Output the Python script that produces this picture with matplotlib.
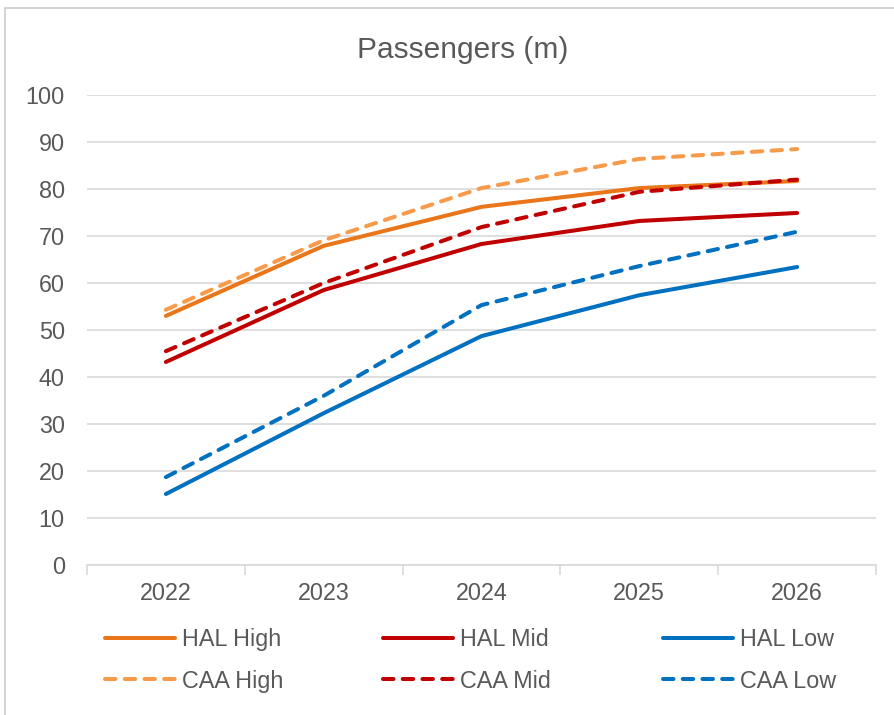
import matplotlib
matplotlib.use("Agg")
import matplotlib.pyplot as plt
from matplotlib.patches import Rectangle
from matplotlib.ticker import FixedLocator, NullFormatter

plt.rcParams['font.family'] = ['Liberation Sans', 'DejaVu Sans']

years = ['2022', '2023', '2024', '2025', '2026']
hal_high = [53.0, 67.9, 76.2, 80.2, 81.7]
caa_high = [54.3, 69.1, 80.2, 86.4, 88.5]
hal_mid = [43.2, 58.5, 68.3, 73.2, 74.9]
caa_mid = [45.5, 60.0, 71.9, 79.4, 82.0]
hal_low = [15.1, 32.3, 48.7, 57.4, 63.4]
caa_low = [18.7, 36.0, 55.3, 63.6, 70.9]

W, H = 894, 715
fig = plt.figure(figsize=(W/100, H/100), dpi=100)
# outer chart frame
fig.patches.append(Rectangle((5/W, -0.1), 1.2, 1.1 - 8/H, transform=fig.transFigure,
                             fill=False, edgecolor='#D0D0D0', linewidth=1.3))

ax = fig.add_axes([87/W, 1-565/H, (876-87)/W, (565-95)/H])
x = list(range(len(years)))
lw = 2.9
dash = (2.6, 2.3)
ax.plot(x, hal_high, color='#E9761A', lw=lw, solid_capstyle='round', label='HAL High', zorder=3)
ax.plot(x, caa_high, color='#F79B4B', lw=lw, dashes=dash, dash_capstyle='round', label='CAA High', zorder=3)
ax.plot(x, hal_mid, color='#C00000', lw=lw, solid_capstyle='round', label='HAL Mid', zorder=3)
ax.plot(x, caa_mid, color='#C00000', lw=lw, dashes=dash, dash_capstyle='round', label='CAA Mid', zorder=3)
ax.plot(x, hal_low, color='#0070C0', lw=lw, solid_capstyle='round', label='HAL Low', zorder=3)
ax.plot(x, caa_low, color='#0070C0', lw=lw, dashes=dash, dash_capstyle='round', label='CAA Low', zorder=3)

ax.set_xlim(-0.5, len(years) - 0.5)
ax.set_ylim(0, 100)
ax.set_yticks(range(0, 101, 10))
ax.grid(axis='y', color='#D9D9D9', linewidth=1.2)
ax.set_axisbelow(True)
for s in ['left', 'right', 'top']:
    ax.spines[s].set_visible(False)
ax.spines['bottom'].set_color('#D9D9D9')
ax.spines['bottom'].set_linewidth(1.2)
ax.spines['bottom'].set_zorder(2)

fs = 16.8
ax.xaxis.set_major_locator(FixedLocator([i - 0.5 for i in range(len(years) + 1)]))
ax.xaxis.set_major_formatter(NullFormatter())
ax.xaxis.set_minor_locator(FixedLocator(x))
ax.set_xticklabels(years, minor=True)
ax.tick_params(axis='x', which='major', length=7, width=1.2, color='#D9D9D9', direction='out')
ax.tick_params(axis='x', which='minor', length=0, pad=12, labelsize=fs, labelcolor='#595959')
ax.tick_params(axis='y', length=0, pad=16, labelsize=fs, labelcolor='#595959')

fig.text(463/W, 1-58/H, 'Passengers (m)', ha='center', va='baseline', fontsize=21.5, color='#595959')

h, l = ax.get_legend_handles_labels()
col_x = [105, 383, 663]
for c in range(3):
    fig.legend(h[2*c:2*c+2], l[2*c:2*c+2], ncol=1, loc='center left',
               bbox_to_anchor=(col_x[c]/W, 1-660.5/H), frameon=False, fontsize=fs,
               handlelength=3.0, handletextpad=0.3, borderpad=0, borderaxespad=0,
               labelspacing=0.78, labelcolor='#595959')

fig.savefig('out.png', dpi=100)
